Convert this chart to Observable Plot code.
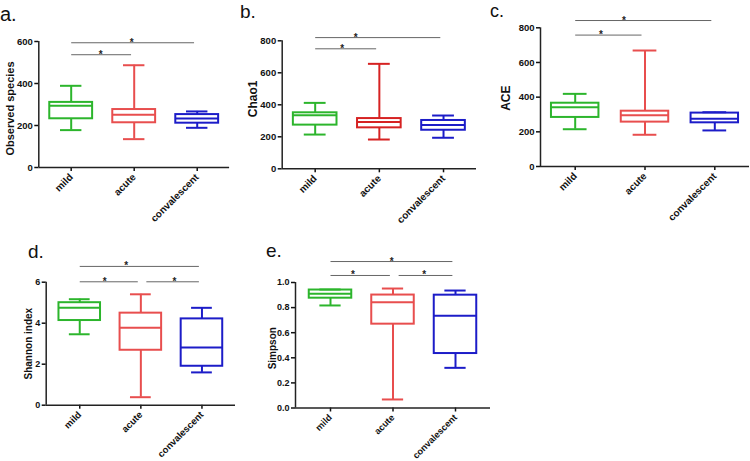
<!DOCTYPE html>
<html><head><meta charset="utf-8">
<script src="https://cdn.jsdelivr.net/npm/d3@7"></script>
<script src="https://cdn.jsdelivr.net/npm/@observablehq/plot@0.6"></script>
<style>
body{margin:0;background:#fff;}
#fig{position:relative;width:750px;height:461px;overflow:hidden;font-family:"Liberation Sans",Arial,sans-serif;}
.panel{position:absolute;}
.panel svg{overflow:visible;}
.panel svg text{font-family:"Liberation Sans",Arial,sans-serif;font-weight:bold;}
.letter{position:absolute;font-family:"Liberation Sans",Arial,sans-serif;color:#111;line-height:normal;}
</style></head><body><div id="fig"></div>
<script>
// categories (groups)
const categories = ["mild", "acute", "convalescent"];

// five-number summaries per group: [min, q1, median, q3, max]
const observedSpecies = [[178, 232, 294, 310, 389], [135, 213, 251, 276, 487], [189, 211, 233, 252, 267]];
const chao1 = [[214, 273, 335, 350, 412], [183, 256, 293, 314, 656], [194, 241, 273, 302, 333]];
const ace = [[215, 283, 342, 365, 419], [183, 256, 296, 319, 669], [208, 252, 275, 308, 313]];
const shannon = [[3.46, 4.13, 4.75, 5.0, 5.17], [0.39, 2.68, 3.78, 4.49, 5.41], [1.6, 1.9, 2.81, 4.21, 4.75]];
const simpson = [[0.817, 0.875, 0.91, 0.94, 0.944], [0.068, 0.668, 0.843, 0.90, 0.952], [0.32, 0.434, 0.735, 0.899, 0.936]];

// y tick values
const ticksObserved = [0, 200, 400, 600];
const ticksChao1 = [0, 200, 400, 600, 800];
const ticksAce = [0, 200, 400, 600, 800];
const ticksShannon = [0, 2, 4, 6];
const ticksSimpson = [0, 0.2, 0.4, 0.6, 0.8, 1.0];

// significance brackets: compared groups, bracket level (data units), star position (group index)
const sigObserved = [{from: "mild", to: "convalescent", level: 594, star: 0.96}, {from: "mild", to: "acute", level: 537, star: 0.47}];
const sigChao1 = [{from: "mild", to: "convalescent", level: 820, star: 0.63}, {from: "mild", to: "acute", level: 750, star: 0.42}];
const sigAce = [{from: "mild", to: "convalescent", level: 842, star: 0.70}, {from: "mild", to: "acute", level: 758, star: 0.37}];
const sigShannon = [{from: "mild", to: "convalescent", level: 6.77, star: 0.76}, {from: "mild", to: "acute", level: 6.02, star: 0.41}, {from: "acute", to: "convalescent", level: 6.02, star: 1.55}];
const sigSimpson = [{from: "mild", to: "convalescent", level: 1.167, star: 0.98}, {from: "mild", to: "acute", level: 1.056, star: 0.36}, {from: "acute", to: "convalescent", level: 1.056, star: 1.50}];

const fig = document.getElementById("fig");

function panel(cfg) {
  const rows = categories.map((c, i) => {
    const s = cfg.stats[i];
    return {i, cat: c, min: s[0], q1: s[1], med: s[2], q3: s[3], max: s[4]};
  });
  const sig = cfg.sig.map(d => {
    const a = categories.indexOf(d.from), b = categories.indexOf(d.to);
    return {x1: a + (a > 0 ? 0.09 : 0), x2: b - 0.05, level: d.level, star: d.star};
  });
  const hw = 0.34, cw = 0.17;
  const o = cfg.outer;
  const yMax = cfg.ticks[cfg.ticks.length - 1];
  const color = (d) => cfg.colors[d.i];
  const chart = Plot.plot({
    width: cfg.w, height: cfg.h,
    marginLeft: cfg.ml, marginRight: cfg.mr, marginTop: cfg.mt, marginBottom: cfg.mb,
    style: {fontFamily: "'Liberation Sans', Arial, sans-serif", background: "transparent", color: "#111"},
    x: {type: "linear", domain: [-o, 2 + o]},
    y: {domain: [0, yMax]},
    marks: [
      // axes
      Plot.axisY({ticks: cfg.ticks, tickSize: 4, tickPadding: 2, tickFormat: cfg.fmt, fontWeight: "bold", fontSize: cfg.tickFont, strokeWidth: 1.5, label: null}),
      Plot.axisX({ticks: [0, 1, 2], tickSize: 4, tickFormat: () => "", strokeWidth: 1.5, label: null}),
      Plot.text(rows, {x: "i", frameAnchor: "bottom", text: "cat", rotate: -45, textAnchor: "end", lineAnchor: "middle", dy: 8, fontSize: cfg.xFont, fontWeight: "bold", fill: "#111"}),
      Plot.ruleX([-o], {y1: 0, y2: yMax, stroke: "#222", strokeWidth: 1.5}),
      Plot.ruleY([0], {stroke: "#222", strokeWidth: 1.5}),
      Plot.text([cfg.title], {frameAnchor: "left", textAnchor: "middle", lineAnchor: "middle", rotate: -90, dx: -cfg.titleDx, dy: cfg.titleDy, fontWeight: "bold", fontSize: cfg.titleFont, fill: "#111"}),
      // whiskers
      Plot.ruleX(rows, {x: "i", y1: "q3", y2: "max", stroke: color, strokeWidth: 2}),
      Plot.ruleX(rows, {x: "i", y1: "min", y2: "q1", stroke: color, strokeWidth: 2}),
      Plot.ruleY(rows, {y: "max", x1: d => d.i - cw, x2: d => d.i + cw, stroke: color, strokeWidth: 2}),
      Plot.ruleY(rows, {y: "min", x1: d => d.i - cw, x2: d => d.i + cw, stroke: color, strokeWidth: 2}),
      // boxes
      Plot.rect(rows, {x1: d => d.i - hw, x2: d => d.i + hw, y1: "q1", y2: "q3", stroke: color, fill: "none", strokeWidth: 2}),
      Plot.ruleY(rows, {y: "med", x1: d => d.i - hw, x2: d => d.i + hw, stroke: color, strokeWidth: 2}),
      // significance
      Plot.link(sig, {x1: "x1", x2: "x2", y1: "level", y2: "level", stroke: "#666", strokeWidth: 1}),
      Plot.text(sig, {x: "star", y: "level", text: () => "*", lineAnchor: "bottom", dy: 3, fontSize: 10, fill: "#222"})
    ]
  });
  const div = document.createElement("div");
  div.className = "panel";
  div.style.left = cfg.left + "px";
  div.style.top = cfg.top + "px";
  div.appendChild(chart);
  fig.appendChild(div);
  const lab = document.createElement("div");
  lab.className = "letter";
  lab.textContent = cfg.letter;
  lab.style.left = cfg.lx + "px";
  lab.style.top = cfg.ly + "px";
  lab.style.fontSize = cfg.lsize + "px";
  fig.appendChild(lab);
}

const green = "#2cb52c", red = "#e84e4e", redB = "#d62222", blue = "#1c1cc8";

panel({letter: "a.", lx: 0, ly: 3, lsize: 20, left: 0, top: 0, w: 240, h: 230, ml: 38.3, mr: 10.9, mt: 41, mb: 63, outer: 0.514,
  stats: observedSpecies, ticks: ticksObserved, sig: sigObserved, colors: [green, red, blue], fmt: d3.format("d"),
  title: "Observed species", titleDx: 28, titleDy: 4, titleFont: 11, tickFont: 9.5, xFont: 10});
panel({letter: "b.", lx: 240, ly: 1, lsize: 19, left: 240, top: 0, w: 250, h: 230, ml: 41.7, mr: 14, mt: 40.3, mb: 61.7, outer: 0.514,
  stats: chao1, ticks: ticksChao1, sig: sigChao1, colors: [green, redB, blue], fmt: d3.format("d"),
  title: "Chao1", titleDx: 28.7, titleDy: -6, titleFont: 12, tickFont: 9.5, xFont: 10});
panel({letter: "c.", lx: 490, ly: 0.5, lsize: 18, left: 490, top: 0, w: 260, h: 230, ml: 50, mr: 1, mt: 27.3, mb: 64, outer: 0.497,
  stats: ace, ticks: ticksAce, sig: sigAce, colors: [green, red, blue], fmt: d3.format("d"),
  title: "ACE", titleDx: 34, titleDy: 1, titleFont: 12, tickFont: 9.5, xFont: 10});
panel({letter: "d.", lx: 28, ly: 241, lsize: 19, left: 0, top: 230, w: 240, h: 231, ml: 45.7, mr: 5, mt: 51.7, mb: 56.3, outer: 0.549,
  stats: shannon, ticks: ticksShannon, sig: sigShannon, colors: [green, red, blue], fmt: d3.format("d"),
  title: "Shannon index", titleDx: 17.4, titleDy: 0, titleFont: 10, tickFont: 9, xFont: 9.5});
panel({letter: "e.", lx: 266, ly: 239.5, lsize: 19, left: 240, top: 230, w: 250, h: 231, ml: 55, mr: 0, mt: 52, mb: 53.5, outer: 0.56,
  stats: simpson, ticks: ticksSimpson, sig: sigSimpson, colors: [green, red, blue], fmt: d3.format(".1f"),
  title: "Simpson", titleDx: 22.7, titleDy: 3, titleFont: 10, tickFont: 9, xFont: 9.2});
</script></body></html>
